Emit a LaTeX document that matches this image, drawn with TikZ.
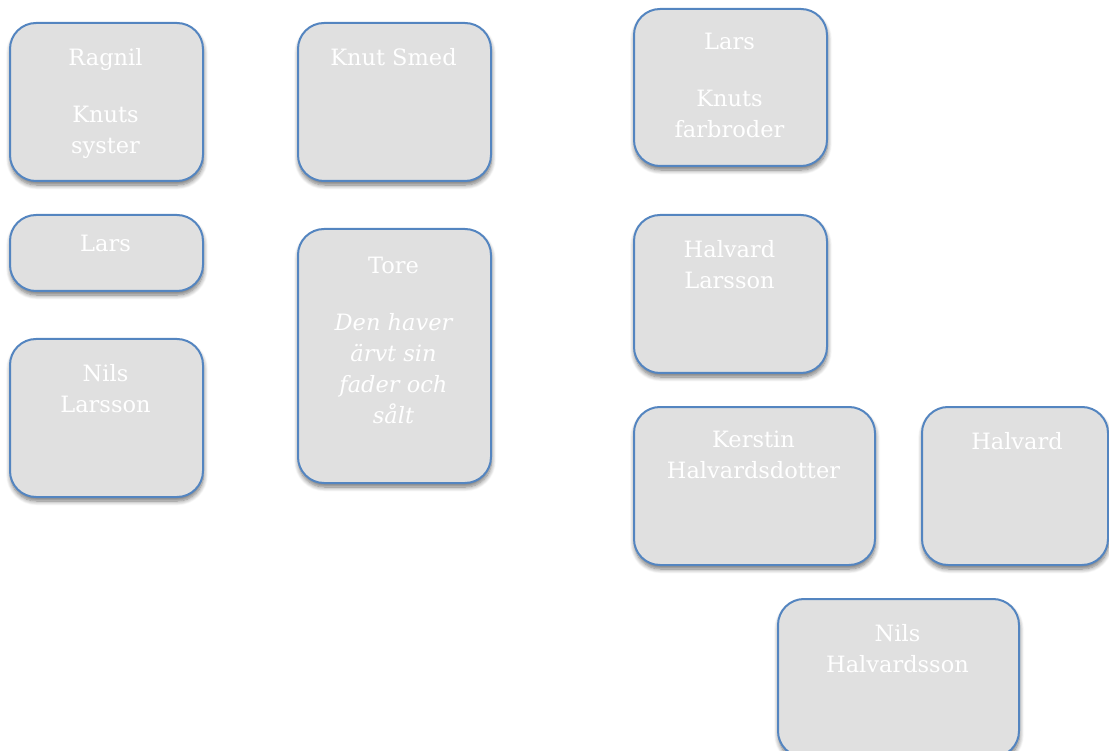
\documentclass[tikz,border=0pt]{standalone}
\usepackage{fontspec}
\setmainfont{DejaVu Serif}
\usetikzlibrary{shadows.blur}
\definecolor{boxfill}{RGB}{224,224,224}
\definecolor{boxline}{RGB}{84,133,192}
\tikzset{
  famblock/.style={draw=boxline, line width=2pt, fill=boxfill, rounded corners=26pt,
    anchor=north west, inner sep=0pt,
    blur shadow={shadow xshift=0.5pt, shadow yshift=-4pt, shadow blur radius=4.5pt, shadow blur steps=8, shadow opacity=55}},
  famtext/.style={anchor=north, inner sep=0pt, align=center, text=white,
    font=\fontsize{22.5}{31}\selectfont}
}
\begin{document}
\begin{tikzpicture}[x=1pt,y=-1pt]
\useasboundingbox (0,0) rectangle (1109,751);
% boxes
\node[famblock, minimum width=193pt, minimum height=158pt] (ragnil) at (9,22) {};
\node[famblock, minimum width=193pt, minimum height=158pt] (knut) at (297,22) {};
\node[famblock, minimum width=193pt, minimum height=76pt] (larsA) at (9,214) {};
\node[famblock, minimum width=193pt, minimum height=158pt] (nilsL) at (9,338) {};
\node[famblock, minimum width=193pt, minimum height=254pt] (tore) at (297,228) {};
\node[famblock, minimum width=193pt, minimum height=157pt] (larsB) at (633,8) {};
\node[famblock, minimum width=193pt, minimum height=158pt] (halvL) at (633,214) {};
\node[famblock, minimum width=241pt, minimum height=158pt] (kerstin) at (633,406) {};
\node[famblock, minimum width=186pt, minimum height=158pt] (halv) at (921,406) {};
\node[famblock, minimum width=241pt, minimum height=158pt] (nilsH) at (777,598) {};
% texts
\node[famtext] (ragnilT) at (105.5,48) {Ragnil\\[26pt]Knuts\\syster};
\node[famtext] (knutT) at (393.5,48) {Knut Smed};
\node[famtext] (larsAT) at (105.5,235) {Lars};
\node[famtext] (nilsLT) at (105.5,364) {Nils\\Larsson};
\node[famtext] (toreT) at (393.5,257) {Tore\\[26pt]\itshape Den haver\\\itshape ärvt sin\\\itshape fader och\\\itshape sålt};
\node[famtext] (larsBT) at (729.5,33) {Lars\\[26pt]Knuts\\farbroder};
\node[famtext] (halvLT) at (729.5,240) {Halvard\\Larsson};
\node[famtext] (kerstinT) at (753.5,431) {Kerstin\\Halvardsdotter};
\node[famtext] (halvT) at (1017,432) {Halvard};
\node[famtext] (nilsHT) at (897.5,624) {Nils\\Halvardsson};
\end{tikzpicture}
\end{document}
